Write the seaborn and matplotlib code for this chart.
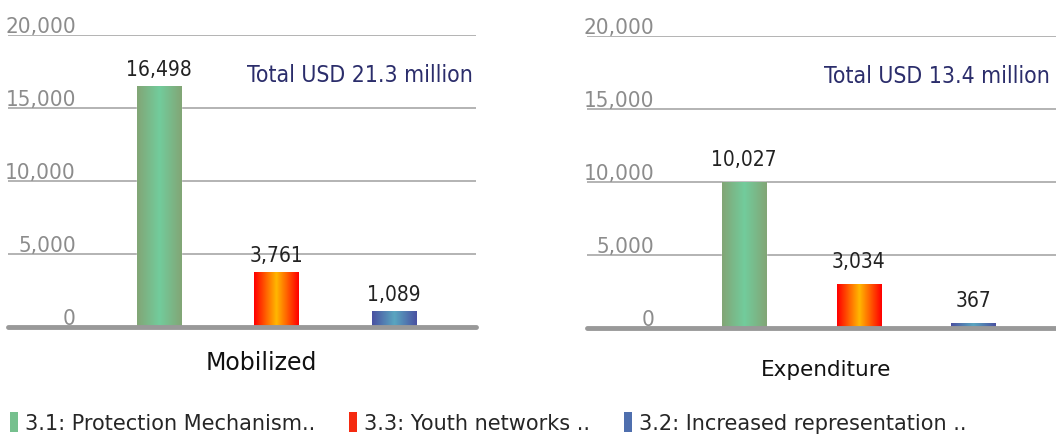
import numpy as np
import pandas as pd
import matplotlib
matplotlib.use("Agg")
import matplotlib.pyplot as plt
import matplotlib.transforms as mtransforms
from matplotlib.colors import LinearSegmentedColormap
from matplotlib.patches import Patch
import seaborn as sns

categories = ["3.1: Protection Mechanism..", "3.3: Youth networks ..", "3.2: Increased representation .."]
mobilized = [16498, 3761, 1089]
expenditure = [10027, 3034, 367]
panel_names = ["Mobilized", "Expenditure"]
totals = ["Total USD 21.3 million", "Total USD 13.4 million"]
yticks = [0, 5000, 10000, 15000, 20000]

# gradient stops per bar (edge, centre, edge)
grads = [["#82a676", "#72cc9c", "#82a676"],
         ["#ff0000", "#ffb800", "#ff0000"],
         ["#4a52a2", "#5aa6c0", "#4a52a2"]]
solid = ["#76c08e", "#f52a10", "#4f6fae"]

sns.set_theme(style="white")
plt.rcParams["font.family"] = ["DejaVu Sans"]
narrow = dict(family="DejaVu Sans", fontstretch="condensed")

fig = plt.figure(figsize=(10.56, 4.41), dpi=100)
ax1 = fig.add_axes([8 / 1056, 1 - 327 / 441, 468 / 1056, 292 / 441])
ax2 = fig.add_axes([587 / 1056, 1 - 328 / 441, 469 / 1056, 292 / 441])

# ax, values, xlim, bar width, tick label x, total x, value label gap (pt)
setups = [
    (ax1, mobilized, (-1.285, 2.70), 0.375, 0.145, 0.9936, 7),
    (ax2, expenditure, (-1.37, 2.72), 0.385, 0.143, 0.987, 11),
]

for i, (ax, vals, xl, w, lab_x, tot_x, gap) in enumerate(setups):
    df = pd.DataFrame({"cat": categories, "value": vals})
    sns.barplot(data=df, x="cat", y="value", hue="cat", palette=solid,
                width=w, legend=False, ax=ax, zorder=3)
    ax.set_yticks(yticks)
    ax.set_xticks([])
    ax.tick_params(left=False, labelleft=False)
    ax.set_xlabel("")
    ax.set_ylabel("")
    for s in ax.spines.values():
        s.set_visible(False)
    ax.yaxis.grid(True, color="#b3b3b3", lw=1.4, zorder=0)
    ax.axhline(0, color="#999999", lw=3.5, zorder=4, clip_on=False)

    # gradient fill inside each bar + value label
    for bar, stops in zip(ax.patches, grads):
        cmap = LinearSegmentedColormap.from_list("g", stops)
        x0, y0 = bar.get_x(), bar.get_y()
        h = bar.get_height()
        grad = np.linspace(0, 1, 64).reshape(1, -1)
        im = ax.imshow(grad, cmap=cmap, aspect="auto", zorder=3.5,
                       extent=[x0, x0 + bar.get_width(), y0, y0 + h])
        im.set_clip_path(bar)
        ax.annotate(f"{h:,.0f}", (x0 + bar.get_width() / 2, h), xytext=(0, gap),
                    textcoords="offset points", ha="center", va="baseline",
                    fontsize=15, color="#222222", zorder=5, **narrow)
    ax.set_xlim(*xl)
    ax.set_ylim(0, 20000)

    trans = mtransforms.blended_transform_factory(ax.transAxes, ax.transData)
    for t in yticks:
        ax.text(lab_x, t + 140, f"{t:,}", transform=trans, ha="right", va="baseline",
                fontsize=16, color="#8c8c8c", **narrow)

    ax.text(tot_x, 0.863, totals[i], transform=ax.transAxes, ha="right", va="center",
            fontsize=16.5, color="#2b2d6b", **narrow)

fig.text(261 / 1056, 1 - 363 / 441, panel_names[0], ha="center", va="center",
         fontsize=17, color="#111111")
fig.text(826 / 1056, 1 - 370 / 441, panel_names[1], ha="center", va="center",
         fontsize=15.5, color="#111111")

handles = [Patch(facecolor=c, edgecolor="none") for c in solid]
fig.legend(handles, categories, loc="center left", bbox_to_anchor=(0.009, 1 - 423 / 441),
           ncol=3, frameon=False, handlelength=0.4, handleheight=1.1,
           handletextpad=0.35, columnspacing=1.6, borderaxespad=0, borderpad=0,
           prop={"family": "DejaVu Sans", "size": 15})

fig.savefig("out.png", dpi=100)
